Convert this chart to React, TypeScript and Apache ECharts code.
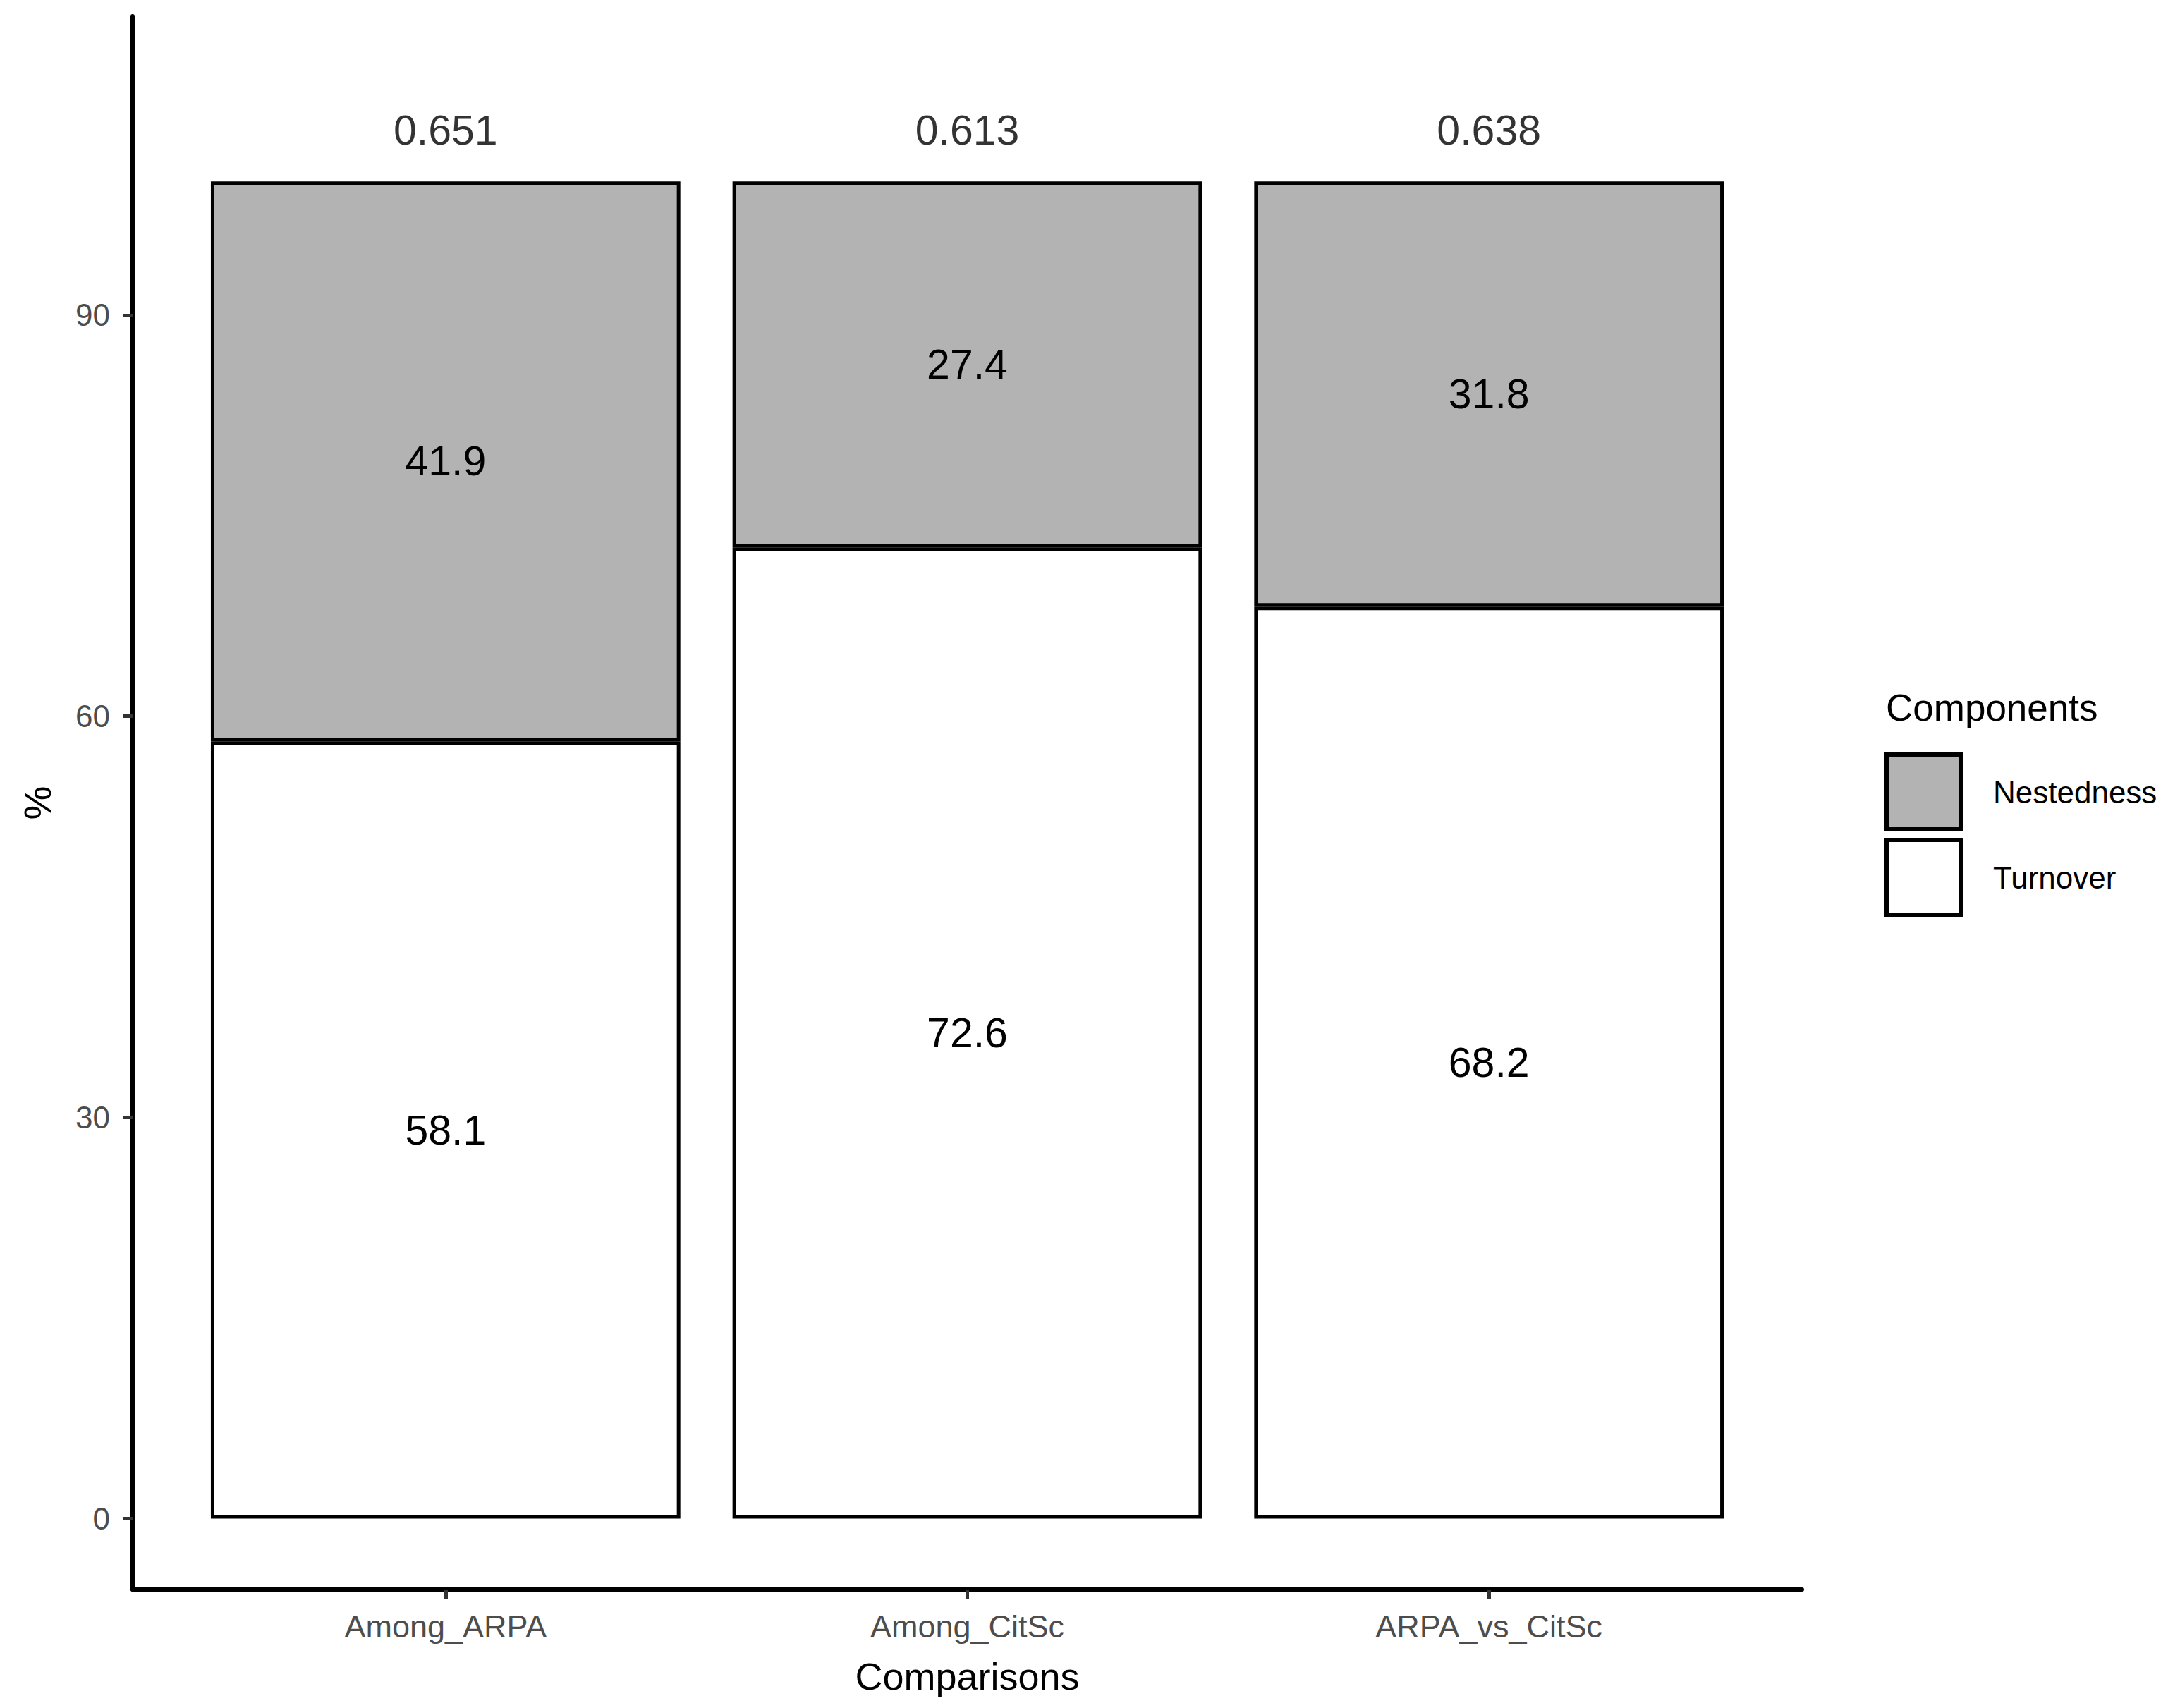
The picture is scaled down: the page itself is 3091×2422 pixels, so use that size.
import React, { useEffect, useRef } from "react";
import * as echarts from "echarts";

const categories = ["Among_ARPA", "Among_CitSc", "ARPA_vs_CitSc"];
const turnover = [58.1, 72.6, 68.2];
const nestedness = [41.9, 27.4, 31.8];
const betaTotal = [0.651, 0.613, 0.638];
const betaLabelY = 103.8;
const yTicks = [0, 30, 60, 90];

const FONT = "Liberation Sans, Arial, sans-serif";
const Y_MIN = -5.3;
const Y_MAX = 112.35;

export default function App() {
  const ref = useRef<HTMLDivElement>(null);
  useEffect(() => {
    if (!ref.current) return;
    const chart = echarts.init(ref.current, null, { renderer: "svg" });
    const outerLeft = 188;
    const outerWidth = 2367;
    const band = outerWidth / 3.2;
    const innerLeft = outerLeft + 0.1 * band;
    const innerWidth = band * 3;
    const top = 23;
    const height = 2231;
    const barWidth = band * 0.9;
    const valueLabel = {
      show: true,
      position: "inside",
      fontFamily: FONT,
      fontSize: 59,
      color: "#000",
    };
    const option: any = {
      animation: false,
      backgroundColor: "#ffffff",
      textStyle: { fontFamily: FONT },
      title: {
        text: "Components",
        left: 2669,
        top: 972,
        textStyle: { fontFamily: FONT, fontSize: 53, fontWeight: "normal", color: "#000" },
      },
      legend: {
        orient: "vertical",
        left: 2667,
        top: 1062,
        data: ["Nestedness", "Turnover"],
        icon: "rect",
        itemWidth: 106,
        itemHeight: 106,
        itemGap: 9,
        itemStyle: { borderColor: "#000", borderWidth: 6 },
        textStyle: { fontFamily: FONT, fontSize: 44, color: "#000", padding: [6, 0, 0, 40] },
        selectedMode: false,
      },
      grid: [
        { left: outerLeft, top, width: outerWidth, height, containLabel: false },
        { left: innerLeft, top, width: innerWidth, height, containLabel: false },
      ],
      xAxis: [
        {
          gridIndex: 0,
          type: "value",
          min: 0,
          max: 1,
          name: "Comparisons",
          nameLocation: "middle",
          nameGap: 96,
          nameTextStyle: { fontFamily: FONT, fontSize: 54, color: "#000" },
          axisLine: { show: true, onZero: false, lineStyle: { color: "#000", width: 6 } },
          axisTick: { show: false },
          axisLabel: { show: false },
          splitLine: { show: false },
        },
        {
          gridIndex: 1,
          type: "category",
          data: categories,
          axisLine: { show: false, onZero: false },
          axisTick: { show: true, alignWithLabel: true, length: 14, lineStyle: { color: "#333", width: 5 } },
          axisLabel: {
            show: true,
            margin: 30,
            fontFamily: FONT,
            fontSize: 45,
            color: "#4D4D4D",
          },
          splitLine: { show: false },
        },
      ],
      yAxis: [
        {
          gridIndex: 0,
          type: "value",
          min: Y_MIN,
          max: Y_MAX,
          name: "%",
          nameLocation: "middle",
          nameGap: 108,
          nameTextStyle: { fontFamily: FONT, fontSize: 54, color: "#000" },
          axisLine: { show: true, onZero: false, lineStyle: { color: "#000", width: 6 } },
          axisTick: { show: true, length: 14, lineStyle: { color: "#333", width: 5 }, customValues: yTicks },
          axisLabel: {
            show: true,
            customValues: yTicks,
            margin: 32,
            fontFamily: FONT,
            fontSize: 44,
            color: "#4D4D4D",
          },
          splitLine: { show: false },
        },
        {
          gridIndex: 1,
          type: "value",
          min: Y_MIN,
          max: Y_MAX,
          show: false,
          splitLine: { show: false },
        },
      ],
      series: [
        {
          name: "Turnover",
          type: "bar",
          xAxisIndex: 1,
          yAxisIndex: 1,
          stack: "total",
          barWidth,
          data: turnover,
          itemStyle: { color: "#ffffff", borderColor: "#000", borderWidth: 5 },
          label: { ...valueLabel, formatter: (p: any) => Number(p.value).toFixed(1) },
          emphasis: { disabled: true },
        },
        {
          name: "Nestedness",
          type: "bar",
          xAxisIndex: 1,
          yAxisIndex: 1,
          stack: "total",
          barWidth,
          data: nestedness,
          itemStyle: { color: "#B3B3B3", borderColor: "#000", borderWidth: 5 },
          label: { ...valueLabel, formatter: (p: any) => Number(p.value).toFixed(1) },
          emphasis: { disabled: true },
        },
        {
          name: "BetaTotal",
          type: "scatter",
          xAxisIndex: 1,
          yAxisIndex: 1,
          symbolSize: 1,
          itemStyle: { color: "rgba(0,0,0,0)" },
          data: betaTotal.map((v, i) => [categories[i], betaLabelY, v]),
          label: { ...valueLabel, formatter: (p: any) => p.value[2].toFixed(3) },
          emphasis: { disabled: true },
        },
      ],
    };
    chart.setOption(option);
    return () => chart.dispose();
  }, []);
  return (
    <div
      ref={ref}
      style={{ position: "absolute", left: 0, top: 0, width: 3091, height: 2422 }}
    />
  );
}
